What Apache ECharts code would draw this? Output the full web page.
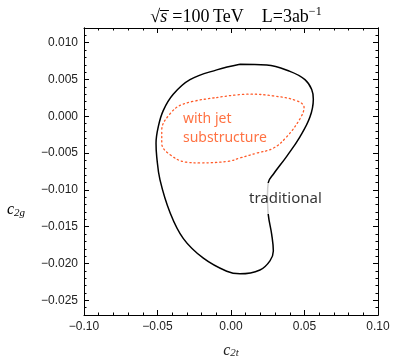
<!DOCTYPE html>
<html>
<head>
<meta charset="utf-8">
<script src="https://cdn.jsdelivr.net/npm/echarts@6/dist/echarts.min.js"></script>
<style>
  html, body { margin: 0; padding: 0; background: #fff; }
  #chart { width: 393px; height: 364px; }
</style>
</head>
<body>
<div id="chart"></div>
<script>
// contour outlines, [c2t, c2g]
const traditional = [
  [0.0061, 0.00707], [0.0243, 0.00698], [0.0401, 0.0061], [0.0503, 0.00498],
  [0.0549, 0.00365], [0.0560, 0.00232], [0.0537, -0.00011], [0.0469, -0.00278],
  [0.0379, -0.00544], [0.0288, -0.00787], [0.0254, -0.00899], [0.0248, -0.01076],
  [0.0254, -0.01342], [0.0277, -0.01608], [0.0288, -0.01831], [0.0265, -0.01964],
  [0.0197, -0.02088], [0.0061, -0.02141], [-0.0029, -0.02106], [-0.0188, -0.01928],
  [-0.0324, -0.01662], [-0.0415, -0.01307], [-0.0483, -0.00864], [-0.0505, -0.00554],
  [-0.0510, -0.00367], [-0.0495, -0.00145], [-0.0461, 0.00078], [-0.0393, 0.00299],
  [-0.0279, 0.00498], [-0.0097, 0.00631], [0.0061, 0.00707]
]
const jetSubstructure = [
  [-0.0097, 0.00255], [0.0129, 0.00301], [0.0288, 0.00277], [0.0447, 0.00211],
  [0.0497, 0.00122], [0.0469, -0.00034], [0.0379, -0.00278], [0.0288, -0.00433],
  [0.0175, -0.005], [0.0061, -0.00566], [-0.0014, -0.0061], [-0.0211, -0.00633],
  [-0.0302, -0.00624], [-0.0415, -0.00521], [-0.0471, -0.00367], [-0.0471, -0.00188],
  [-0.0415, 0.00033], [-0.0325, 0.00166], [-0.0097, 0.00255]
]
const labelTraditional = [0.0116, -0.01116]
const labelJet = [-0.0327, -0.00162]

const yMajorTicks = [-0.025, -0.02, -0.015, -0.01, -0.005, 0, 0.005, 0.01]
const yMinorTicks = []
for (let k = -27; k <= 12; k++) yMinorTicks.push(k / 1000)

const fmt = (d) => (v) => v.toFixed(d).replace('-', '\u2212')
const serif = '"Liberation Serif", "DejaVu Serif", serif'
const sans = '"Liberation Sans", Arial, sans-serif'
const geo = '"Noto Sans", sans-serif'

const chart = echarts.init(document.getElementById('chart'), null, { renderer: 'canvas' })

const xBase = {
  type: 'value', min: -0.1, max: 0.1, interval: 0.05,
  axisLine: { onZero: false, lineStyle: { color: '#000', width: 1 } },
  axisTick: { inside: true, length: 5, lineStyle: { color: '#000' } },
  minorTick: { show: true, splitNumber: 5, length: 2.5, lineStyle: { color: '#000' } },
  splitLine: { show: false },
}
const yBase = {
  type: 'value', min: -0.027, max: 0.012,
  axisLine: { onZero: false, lineStyle: { color: '#000', width: 1 } },
  splitLine: { show: false },
}
const subRich = {
  c: { fontFamily: serif, fontStyle: 'italic', fontSize: 16, color: '#222' },
  sub: { fontFamily: serif, fontStyle: 'italic', fontSize: 11, color: '#222', padding: [6, 0, 0, 0] },
}

chart.setOption({
  animation: false,
  title: {
    text: '{r|\u221a}{s|s\u0305} {r|=100\u2009TeV    L=3ab}{sup|\u22121}',
    left: 231, top: 1, textAlign: 'center',
    textStyle: {
      fontWeight: 'normal',
      rich: {
        r: { fontFamily: serif, fontSize: 18, fontWeight: 'normal', color: '#000' },
        s: { fontFamily: serif, fontSize: 18, fontStyle: 'italic', fontWeight: 'normal', color: '#000' },
        sup: { fontFamily: serif, fontSize: 12, fontWeight: 'normal', color: '#000', padding: [0, 0, 10, 0] },
      },
    },
  },
  graphic: [
    { type: 'text', left: 7, top: 202, style: { text: '{c|c}{sub|2g}', rich: subRich } },
  ],
  grid: { left: 84, right: 15, top: 28, bottom: 41 },
  xAxis: [
    {
      ...xBase, position: 'bottom',
      axisLabel: { color: '#222', fontFamily: sans, fontSize: 12, margin: 6, formatter: fmt(2) },
      name: '{c|c}{sub|2t}', nameLocation: 'middle', nameGap: 27,
      nameTextStyle: { rich: subRich },
    },
    { ...xBase, position: 'top', axisLabel: { show: false } },
  ],
  yAxis: [
    {
      ...yBase, position: 'left',
      axisTick: { inside: true, length: 5, customValues: yMajorTicks, lineStyle: { color: '#000' } },
      axisLabel: { color: '#222', fontFamily: sans, fontSize: 12, margin: 6, customValues: yMajorTicks, formatter: fmt(3) },
    },
    {
      ...yBase, position: 'left', axisLabel: { show: false },
      axisTick: { inside: true, length: 2.5, customValues: yMinorTicks, lineStyle: { color: '#000' } },
    },
    {
      ...yBase, position: 'right', axisLabel: { show: false },
      axisTick: { inside: true, length: 5, customValues: yMajorTicks, lineStyle: { color: '#000' } },
    },
    {
      ...yBase, position: 'right', axisLabel: { show: false },
      axisTick: { inside: true, length: 2.5, customValues: yMinorTicks, lineStyle: { color: '#000' } },
    },
  ],
  series: [
    {
      type: 'line', name: 'traditional', data: traditional, smooth: 0.4,
      showSymbol: false, lineStyle: { color: '#000', width: 1.5 }, z: 2,
    },
    {
      type: 'line', name: 'with jet substructure', data: jetSubstructure, smooth: 0.4,
      showSymbol: false, lineStyle: { color: '#ff5a28', width: 1.3, type: [1.3, 3], cap: 'round' }, z: 2,
    },
    {
      type: 'scatter', data: [labelTraditional], symbolSize: 0, z: 5,
      label: {
        show: true, position: 'right', distance: 0, formatter: 'traditional',
        fontFamily: geo, fontSize: 15, color: '#000',
        backgroundColor: '#fff', padding: [8, 1, 8, 1],
      },
    },
    {
      type: 'scatter', data: [labelJet], symbolSize: 0, z: 5,
      label: {
        show: true, position: 'right', distance: 0, formatter: 'with jet\nsubstructure',
        fontFamily: geo, fontSize: 14, lineHeight: 19, color: '#ff4f14',
      },
    },
  ],
})
</script>
</body>
</html>
